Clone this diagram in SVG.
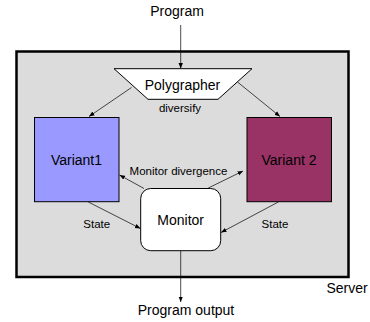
<svg xmlns="http://www.w3.org/2000/svg" width="370" height="322" viewBox="0 0 370 322">
  <style>
    text { font-family: "Liberation Sans", Arial, sans-serif; fill: #000; text-anchor: middle; }
    .big { font-size: 14px; }
    .small { font-size: 11.5px; }
    .conn { stroke: #000; stroke-width: 0.7; fill: none; marker-end: url(#arrow); }
    .box { stroke: #000; stroke-width: 1; }
  </style>
  <defs>
    <marker id="arrow" markerUnits="userSpaceOnUse" markerWidth="6" markerHeight="6" viewBox="0 0 6 6" refX="5.5" refY="3" orient="auto">
      <path d="M0,0.8 L5.5,3 L0,5.2 Z" fill="#000"/>
    </marker>
  </defs>

  <rect width="370" height="322" fill="#fff"/>

  <!-- server enclosure -->
  <g id="server">
    <rect x="16.5" y="51.5" width="332" height="225.5" fill="#dcdcdc" stroke="#000" stroke-width="2.5"/>
    <text class="big" x="347" y="293">Server</text>
  </g>

  <!-- connectors -->
  <g id="connectors">
    <line class="conn" x1="180.7" y1="25" x2="180.7" y2="68.5"/>
    <line class="conn" x1="131.5" y1="87.5" x2="89" y2="116.5"/>
    <line class="conn" x1="237.5" y1="82" x2="280" y2="116.5"/>
    <line class="conn" x1="144" y1="188.5" x2="119.5" y2="175"/>
    <line class="conn" x1="208.3" y1="188" x2="243" y2="171"/>
    <line class="conn" x1="88.3" y1="202" x2="140.5" y2="228.5"/>
    <line class="conn" x1="278.3" y1="202" x2="221" y2="232.5"/>
    <line class="conn" x1="180.7" y1="251" x2="180.7" y2="302"/>
  </g>

  <g id="program">
    <text class="big" x="177" y="16">Program</text>
  </g>

  <g id="polygrapher">
    <polygon class="box" points="114,68.7 252,68.7 218,99.3 148,99.3" fill="#fff"/>
    <text class="big" x="182.5" y="89.5">Polygrapher</text>
    <text class="small" x="180" y="111.5">diversify</text>
  </g>

  <g id="variant1">
    <rect class="box" x="34.5" y="117.5" width="84.5" height="84.2" fill="#9999ff"/>
    <text class="big" x="76.5" y="165">Variant1</text>
  </g>

  <g id="variant2">
    <rect class="box" x="247" y="117.5" width="84.5" height="84.2" fill="#993366"/>
    <text class="big" x="289" y="165">Variant 2</text>
  </g>

  <g id="monitor">
    <rect class="box" x="140.7" y="188.5" width="80" height="62.2" rx="10" ry="10" fill="#fff"/>
    <text class="big" x="180.7" y="225">Monitor</text>
    <text class="small" x="178.5" y="175">Monitor divergence</text>
    <text class="small" x="96.7" y="227.7">State</text>
    <text class="small" x="275" y="227.7">State</text>
  </g>

  <g id="output">
    <text class="big" x="186" y="315">Program output</text>
  </g>
</svg>
